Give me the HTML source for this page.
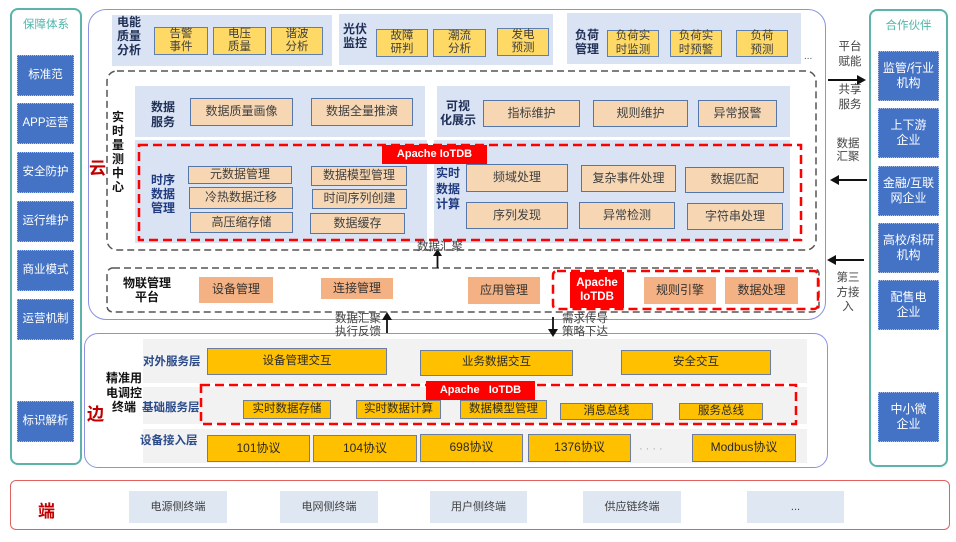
<!DOCTYPE html>
<html><head><meta charset="utf-8">
<style>
*{margin:0;padding:0;box-sizing:border-box}
body{width:956px;height:542px;background:#fff;position:relative;overflow:hidden;font-family:"Liberation Sans","Noto Sans CJK SC",sans-serif;}
.a{position:absolute}
.c{position:absolute;display:flex;align-items:center;justify-content:center;text-align:center;line-height:1.15;z-index:3}
.pan{position:absolute;background:#dae3f3;z-index:1}
.y1{background:#ffd966;border:1.5px solid #5f7fae;font-size:11.5px;color:#404040;line-height:13.5px}
.pe{background:#f6d6b3;border:1.5px solid #5576a8;font-size:12px;color:#404040}
.sb{background:#4472c4;color:#fff;font-size:11.5px;border:1px dotted #a9bde6}
.sr{line-height:15px;font-size:12px}
.lb{position:absolute;font-weight:bold;color:#1f2f55;font-size:12px;line-height:14px;text-align:center;z-index:3}
.sa{background:#f4b183;font-size:12px;color:#333}
.ye{background:#ffc000;border:1.5px solid #6c7ea0;font-size:11.5px;color:#2a2a2a}
.red{background:#ff0000;color:#fff;font-weight:bold;font-size:11px;z-index:4}
.gr{position:absolute;background:#f2f2f2;z-index:1}
.t{position:absolute;font-size:11.5px;color:#444;line-height:13px;text-align:center;z-index:3}
.el{position:absolute;font-weight:bold;color:#2a4a8a;font-size:11.5px;z-index:3;white-space:nowrap}
.bt{background:#dfe7f3;font-size:11px;color:#404040}
</style></head><body>

<!-- frames -->
<div class="a" style="left:10px;top:8px;width:72px;height:457px;border:2px solid #5bb3a9;border-radius:8px"></div>
<div class="a" style="left:869px;top:9px;width:79px;height:458px;border:2px solid #5bb3a9;border-radius:8px"></div>
<div class="a" style="left:88px;top:9px;width:738px;height:311px;border:1.5px solid #8c91e3;border-radius:18px"></div>
<div class="a" style="left:84px;top:333px;width:744px;height:135px;border:1.5px solid #8c91e3;border-radius:14px"></div>
<div class="a" style="left:10px;top:480px;width:940px;height:50px;border:1.5px solid #e06060;border-radius:6px"></div>

<!-- left sidebar -->
<div class="a" style="left:10px;top:16px;width:72px;text-align:center;color:#4fb5a9;font-size:11.5px">保障体系</div>
<div class="c sb" style="left:17px;top:55px;width:57px;height:41px">标准范</div>
<div class="c sb" style="left:17px;top:103px;width:57px;height:41px">APP运营</div>
<div class="c sb" style="left:17px;top:152px;width:57px;height:41px">安全防护</div>
<div class="c sb" style="left:17px;top:201px;width:57px;height:41px">运行维护</div>
<div class="c sb" style="left:17px;top:250px;width:57px;height:41px">商业模式</div>
<div class="c sb" style="left:17px;top:299px;width:57px;height:41px">运营机制</div>
<div class="c sb" style="left:17px;top:401px;width:57px;height:41px">标识解析</div>

<!-- right sidebar -->
<div class="a" style="left:869px;top:17px;width:79px;text-align:center;color:#4fb5a9;font-size:11.5px">合作伙伴</div>
<div class="c sb sr" style="left:878px;top:51px;width:61px;height:50px">监管/行业<br>机构</div>
<div class="c sb sr" style="left:878px;top:108px;width:61px;height:50px">上下游<br>企业</div>
<div class="c sb sr" style="left:878px;top:166px;width:61px;height:50px">金融/互联<br>网企业</div>
<div class="c sb sr" style="left:878px;top:223px;width:61px;height:50px">高校/科研<br>机构</div>
<div class="c sb sr" style="left:878px;top:280px;width:61px;height:50px">配售电<br>企业</div>
<div class="c sb sr" style="left:878px;top:392px;width:61px;height:50px">中小微<br>企业</div>

<!-- cloud top row panels -->
<div class="pan" style="left:112px;top:15px;width:220px;height:51px"></div>
<div class="pan" style="left:339px;top:14px;width:214px;height:51px"></div>
<div class="pan" style="left:567px;top:13px;width:234px;height:51px"></div>
<div class="lb" style="left:113px;top:15px;width:32px">电能<br>质量<br>分析</div>
<div class="lb" style="left:340px;top:23px;width:30px;line-height:13.5px">光伏<br>监控</div>
<div class="lb" style="left:572px;top:28px;width:30px">负荷<br>管理</div>
<div class="c y1" style="left:154px;top:27px;width:54px;height:28px">告警<br>事件</div>
<div class="c y1" style="left:213px;top:27px;width:53px;height:28px">电压<br>质量</div>
<div class="c y1" style="left:271px;top:27px;width:52px;height:28px">谐波<br>分析</div>
<div class="c y1" style="left:376px;top:29px;width:52px;height:28px">故障<br>研判</div>
<div class="c y1" style="left:433px;top:29px;width:53px;height:28px">潮流<br>分析</div>
<div class="c y1" style="left:497px;top:28px;width:52px;height:28px">发电<br>预测</div>
<div class="c y1" style="left:607px;top:30px;width:52px;height:27px">负荷实<br>时监测</div>
<div class="c y1" style="left:670px;top:30px;width:52px;height:27px">负荷实<br>时预警</div>
<div class="c y1" style="left:736px;top:30px;width:52px;height:27px">负荷<br>预测</div>
<div class="a" style="left:804px;top:51px;font-size:10px;color:#555">...</div>

<!-- realtime center -->
<div class="pan" style="left:135px;top:86px;width:290px;height:51px"></div>
<div class="pan" style="left:437px;top:86px;width:353px;height:51px"></div>
<div class="lb" style="left:148px;top:100px;width:30px;line-height:15px">数据<br>服务</div>
<div class="lb" style="left:438px;top:99px;width:40px">可视<br>化展示</div>
<div class="c pe" style="left:190px;top:98px;width:103px;height:28px">数据质量画像</div>
<div class="c pe" style="left:311px;top:98px;width:102px;height:28px">数据全量推演</div>
<div class="c pe" style="left:483px;top:100px;width:97px;height:27px">指标维护</div>
<div class="c pe" style="left:593px;top:100px;width:95px;height:27px">规则维护</div>
<div class="c pe" style="left:698px;top:100px;width:79px;height:27px">异常报警</div>

<div class="pan" style="left:135px;top:140px;width:292px;height:103px"></div>
<div class="pan" style="left:434px;top:140px;width:356px;height:103px"></div>
<div class="lb" style="left:111px;top:110px;width:14px;color:#111">实<br>时<br>量<br>测<br>中<br>心</div>
<div class="c red" style="left:382px;top:145px;width:105px;height:19px">Apache IoTDB</div>
<div class="lb" style="left:148px;top:173px;width:30px;color:#203a80">时序<br>数据<br>管理</div>
<div class="lb" style="left:433px;top:166px;width:30px;line-height:15.5px;color:#203a80">实时<br>数据<br>计算</div>
<div class="c pe" style="left:188px;top:166px;width:104px;height:18px">元数据管理</div>
<div class="c pe" style="left:189px;top:187px;width:104px;height:22px">冷热数据迁移</div>
<div class="c pe" style="left:190px;top:212px;width:103px;height:21px">高压缩存储</div>
<div class="c pe" style="left:311px;top:166px;width:96px;height:20px">数据模型管理</div>
<div class="c pe" style="left:312px;top:189px;width:95px;height:20px">时间序列创建</div>
<div class="c pe" style="left:310px;top:213px;width:95px;height:21px">数据缓存</div>
<div class="c pe" style="left:466px;top:164px;width:102px;height:28px">频域处理</div>
<div class="c pe" style="left:581px;top:165px;width:95px;height:27px">复杂事件处理</div>
<div class="c pe" style="left:685px;top:167px;width:99px;height:26px">数据匹配</div>
<div class="c pe" style="left:466px;top:202px;width:102px;height:27px">序列发现</div>
<div class="c pe" style="left:579px;top:202px;width:96px;height:27px">异常检测</div>
<div class="c pe" style="left:687px;top:203px;width:96px;height:27px">字符串处理</div>
<div class="t" style="left:415px;top:241px;width:50px">数据汇聚</div>

<!-- IoT platform -->
<div class="lb" style="left:117px;top:276px;width:60px;color:#111">物联管理<br>平台</div>
<div class="c sa" style="left:199px;top:277px;width:74px;height:26px">设备管理</div>
<div class="c sa" style="left:321px;top:278px;width:72px;height:21px">连接管理</div>
<div class="c sa" style="left:468px;top:277px;width:72px;height:27px">应用管理</div>
<div class="c red" style="left:570px;top:272px;width:54px;height:36px;line-height:14px;font-size:11.5px">Apache<br>IoTDB</div>
<div class="c sa" style="left:644px;top:277px;width:72px;height:27px">规则引擎</div>
<div class="c sa" style="left:725px;top:277px;width:73px;height:27px">数据处理</div>

<!-- arrow texts -->
<div class="t" style="left:333px;top:313px;width:50px">数据汇聚<br>执行反馈</div>
<div class="t" style="left:560px;top:313px;width:50px">需求传导<br>策略下达</div>
<div class="t" style="left:836px;top:40px;width:28px;line-height:15px">平台<br>赋能</div>
<div class="t" style="left:836px;top:83px;width:28px;line-height:15px">共享<br>服务</div>
<div class="t" style="left:834px;top:138px;width:28px;line-height:13px">数据<br>汇聚</div>
<div class="t" style="left:834px;top:271px;width:28px;line-height:14.5px">第三<br>方接<br>入</div>

<!-- big labels -->
<div class="a" style="left:89px;top:154px;font-size:17px;font-weight:bold;color:#c00000">云</div>
<div class="a" style="left:87px;top:400px;font-size:17px;font-weight:bold;color:#c00000">边</div>
<div class="a" style="left:38px;top:497px;font-size:17px;font-weight:bold;color:#c00000">端</div>

<!-- edge -->
<div class="gr" style="left:143px;top:339px;width:664px;height:44px"></div>
<div class="gr" style="left:143px;top:387px;width:664px;height:37px"></div>
<div class="gr" style="left:143px;top:429px;width:664px;height:34px"></div>
<div class="lb" style="left:103px;top:371px;width:42px;color:#111;line-height:14.5px">精准用<br>电调控<br>终端</div>
<div class="el" style="left:143px;top:353px">对外服务层</div>
<div class="el" style="left:142px;top:399px">基础服务层</div>
<div class="el" style="left:140px;top:432px">设备接入层</div>
<div class="c ye" style="left:207px;top:348px;width:180px;height:27px">设备管理交互</div>
<div class="c ye" style="left:420px;top:350px;width:153px;height:26px">业务数据交互</div>
<div class="c ye" style="left:621px;top:350px;width:150px;height:25px">安全交互</div>
<div class="c red" style="left:426px;top:381px;width:109px;height:19px;white-space:pre">Apache   IoTDB</div>
<div class="c ye" style="left:243px;top:400px;width:88px;height:19px">实时数据存储</div>
<div class="c ye" style="left:356px;top:400px;width:85px;height:19px">实时数据计算</div>
<div class="c ye" style="left:460px;top:400px;width:87px;height:19px">数据模型管理</div>
<div class="c ye" style="left:560px;top:403px;width:93px;height:17px">消息总线</div>
<div class="c ye" style="left:679px;top:403px;width:84px;height:17px">服务总线</div>
<div class="c ye" style="left:207px;top:435px;width:103px;height:27px;font-size:12px">101协议</div>
<div class="c ye" style="left:313px;top:435px;width:104px;height:27px;font-size:12px">104协议</div>
<div class="c ye" style="left:420px;top:434px;width:103px;height:28px;font-size:12px">698协议</div>
<div class="c ye" style="left:528px;top:434px;width:103px;height:28px;font-size:12px">1376协议</div>
<div class="c ye" style="left:692px;top:434px;width:104px;height:28px;font-size:12px">Modbus协议</div>
<div class="a" style="left:639px;top:443px;font-size:11px;color:#aaa;letter-spacing:3px;z-index:3">····</div>

<!-- bottom -->
<div class="c bt" style="left:129px;top:491px;width:98px;height:32px">电源侧终端</div>
<div class="c bt" style="left:280px;top:491px;width:98px;height:32px">电网侧终端</div>
<div class="c bt" style="left:430px;top:491px;width:97px;height:32px">用户侧终端</div>
<div class="c bt" style="left:583px;top:491px;width:98px;height:32px">供应链终端</div>
<div class="c bt" style="left:747px;top:491px;width:97px;height:32px">...</div>

<svg class="a" style="left:0;top:0;z-index:2" width="956" height="542" viewBox="0 0 956 542">
  <rect x="107" y="71" width="709" height="179" rx="10" fill="none" stroke="#555" stroke-width="1.5" stroke-dasharray="7 4"/>
  <rect x="139" y="145" width="662" height="95" fill="none" stroke="#ff0000" stroke-width="2.5" stroke-dasharray="9 5"/>
  <rect x="107" y="268" width="712" height="44" rx="6" fill="none" stroke="#555" stroke-width="1.5" stroke-dasharray="7 4"/>
  <rect x="553" y="271" width="265" height="38" rx="4" fill="none" stroke="#ff0000" stroke-width="2.5" stroke-dasharray="9 5"/>
  <rect x="201" y="385" width="595" height="39" fill="none" stroke="#ff0000" stroke-width="2.5" stroke-dasharray="9 5"/>
  <!-- arrows -->
  <g stroke="#111" stroke-width="1.8" fill="#111">
    <line x1="437.5" y1="255" x2="437.5" y2="268"/>
    <polygon points="437.5,249 433,256 442,256" stroke="none"/>
    <line x1="387" y1="333" x2="387" y2="319"/>
    <polygon points="387,312 382,320 392,320" stroke="none"/>
    <line x1="553" y1="317" x2="553" y2="330"/>
    <polygon points="553,337 548,329 558,329" stroke="none"/>
    <line x1="828" y1="80" x2="858" y2="80" stroke-width="2"/>
    <polygon points="866,80 857,75 857,85" stroke="none"/>
    <line x1="867" y1="180" x2="838" y2="180" stroke-width="2"/>
    <polygon points="830,180 839,175 839,185" stroke="none"/>
    <line x1="864" y1="260" x2="835" y2="260" stroke-width="2"/>
    <polygon points="827,260 836,255 836,265" stroke="none"/>
  </g>
</svg>
</body></html>
